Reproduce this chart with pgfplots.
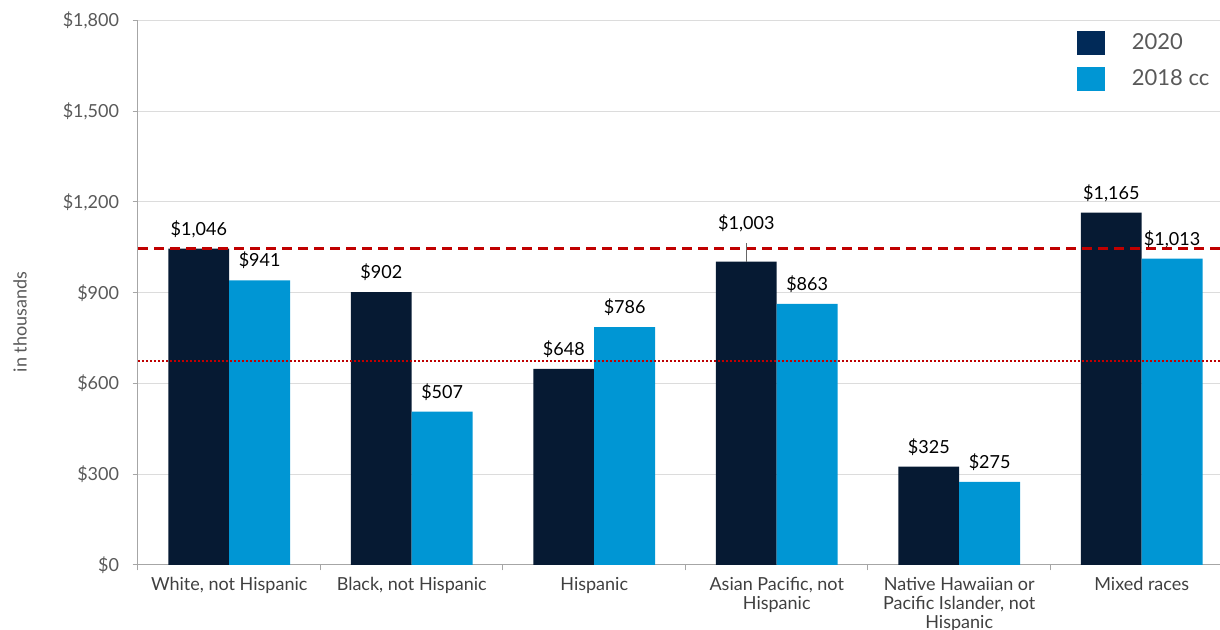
\documentclass[border=0pt]{standalone}
\usepackage{fontspec}
\setmainfont{Lato}
\usepackage{pgfplots}
\pgfplotsset{compat=1.18}

\definecolor{navy}{HTML}{061A33}
\definecolor{legnavy}{HTML}{012A58}
\definecolor{sky}{HTML}{0096D4}
\definecolor{redline}{HTML}{C00000}
\definecolor{gridgrey}{HTML}{DCDCDC}
\definecolor{axisgrey}{HTML}{A6A6A6}
\definecolor{ticktext}{HTML}{595959}
\definecolor{cattext}{HTML}{404040}

\newcommand{\lblfont}{\fontsize{13.5}{14.3}\selectfont}
\newcommand{\money}{\$\pgfmathprintnumber[fixed,precision=0,1000 sep={,},assume math mode=true]{\pgfplotspointmeta}}

\begin{document}
\begin{tikzpicture}
\path[use as bounding box] (0pt,0pt) rectangle (915pt,472.5pt);
\begin{axis}[
    at={(103.5pt,48.75pt)}, anchor=south west,
    scale only axis,
    width=811.5pt, height=408.4pt,
    xmin=-0.5, xmax=5.429,
    ymin=0, ymax=1800,
    axis lines=left,
    axis line style={-, draw=axisgrey, line width=0.75pt},
    ytick={0,300,...,1800},
    yticklabels={\$0,\$300,\$600,\$900,{\$1,200},{\$1,500},{\$1,800}},
    ymajorgrids,
    grid style={draw=gridgrey, line width=0.75pt},
    tick align=outside,
    major tick length=4pt,
    ytick style={draw=axisgrey, line width=0.75pt},
    yticklabel style={font=\lblfont, text=ticktext, inner sep=0pt, xshift=-10pt},
    xtick={0,...,5},
    xticklabels={{White, not Hispanic}, {Black, not Hispanic}, Hispanic,
      {Asian Pacific, not\\Hispanic},
      {Native Hawaiian or\\Pacific Islander, not\\Hispanic},
      Mixed races},
    xtick style={draw=none},
    xticklabel style={font=\lblfont, text=cattext, align=center, inner sep=0pt, yshift=-5pt},
    extra x ticks={-0.5,0.5,1.5,2.5,3.5,4.5},
    extra x tick labels={},
    extra x tick style={xtick style={draw=axisgrey, line width=0.75pt}, grid=none},
    ylabel={in thousands},
    ylabel style={at={(axis description cs:-0.109,0.446)}, anchor=center,
      font=\lblfont, text=ticktext},
    legend style={at={(axis description cs:0.8678,0.9817)}, anchor=north west,
      draw=none, fill=none, inner sep=0pt, row sep=9pt,
      font=\fontsize{16.5}{19}\selectfont, text=ticktext,
      nodes={inner sep=0pt},
      /tikz/every odd column/.style={column sep=20pt}},
    legend cell align=left,
]

% 2020
\addplot[ybar, bar width=45.6pt, bar shift=-22.8pt, fill=navy, draw=none,
    legend image code/.code={\fill[legnavy] (0pt,-9pt) rectangle (21pt,9pt);},
    point meta=y,
    visualization depends on={value \coordindex \as \myidx},
    nodes near coords={\ifnum\myidx=3 \raisebox{14pt}{\money}\else\money\fi},
    every node near coord/.append style={font=\lblfont, text=black, anchor=base,
      inner sep=0pt, xshift=-22.8pt, yshift=10pt}]
  coordinates {(0,1046) (1,902) (2,648) (3,1003) (4,325) (5,1165)};
\addlegendentry{2020}

% 2018 cc
\addplot[ybar, bar width=45.6pt, bar shift=22.8pt, fill=sky, draw=none,
    legend image code/.code={\fill[sky] (0pt,-9pt) rectangle (21pt,9pt);},
    point meta=y,
    nodes near coords={\money},
    every node near coord/.append style={font=\lblfont, text=black, anchor=base,
      inner sep=0pt, xshift=22.8pt, yshift=10pt}]
  coordinates {(0,941) (1,507) (2,786) (3,863) (4,275) (5,1013)};
\addlegendentry{2018 cc}

% reference lines
\addplot[forget plot, sharp plot, no marks, draw=redline, line width=1.8pt,
    dash pattern=on 7.5pt off 4.5pt]
  coordinates {(-0.5,1046) (5.429,1046)};
\addplot[forget plot, sharp plot, no marks, draw=redline, line width=1.5pt,
    dash pattern=on 1.5pt off 1.5pt]
  coordinates {(-0.5,675) (5.429,675)};

\draw[black!60, line width=0.6pt] (axis cs:2.8334,1003) -- ++(0pt,14pt);
\end{axis}
\end{tikzpicture}
\end{document}
